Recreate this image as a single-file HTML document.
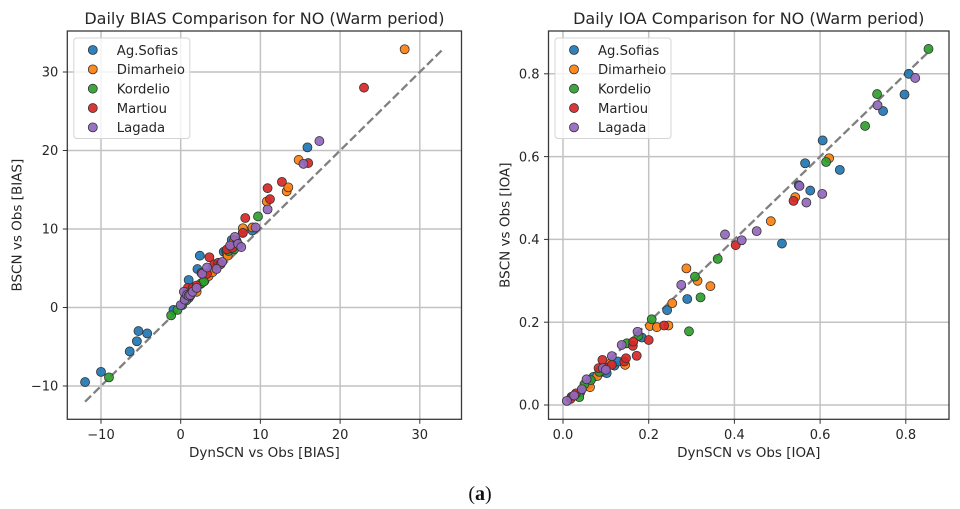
<!DOCTYPE html>
<html>
<head>
<meta charset="utf-8">
<title>Daily BIAS and IOA Comparison for NO</title>
<style>
html,body{margin:0;padding:0;background:#fff;width:960px;height:509px;overflow:hidden}
svg{display:block;filter:blur(0.35px)}
text{font-family:"DejaVu Sans","Liberation Sans",sans-serif;fill:#262626}
</style>
</head>
<body>
<svg id="figure" width="960" height="509" viewBox="0 0 960 509" xmlns="http://www.w3.org/2000/svg">
<text x="480" y="500" text-anchor="middle" style="font-family:'Liberation Serif',serif;font-size:20px;fill:#111">(<tspan font-weight="bold">a</tspan>)</text>
</svg>
<script>
const siteNames = ['Ag.Sofias','Dimarheio','Kordelio','Martiou','Lagada'];
const siteColors = ['#1f77b4','#ff7f0e','#2ca02c','#d62728','#9467bd'];

const biasXTicks = [-10,0,10,20,30];
const biasYTicks = [-10,0,10,20,30];
const ioaXTicks = [0,0.2,0.4,0.6,0.8];
const ioaYTicks = [0,0.2,0.4,0.6,0.8];
const biasLineEnds = [-12,33];
const ioaLineEnds = [0.01,0.86];

const biasAgSofias = [[-12,-9.5],[-10,-8.2],[-6.4,-5.6],[-5.5,-4.3],[-5.3,-3],[-4.2,-3.3],[-0.9,-0.3],[0.2,0.3],[0.5,1],[0.8,1.8],[1,3.5],[1.8,2.2],[2.1,4.9],[2.4,6.6],[3.2,4.3],[4,5],[5.4,7.1],[5.7,7.2],[6.4,8.6],[7,8.5],[9,9.8],[15.9,20.4]];
const biasDimarheio = [[1,1.2],[2,2],[3,3.4],[3.5,4],[4,4.5],[5.8,6.8],[5.9,6.6],[6,7.5],[6.7,8.5],[7.8,9.6],[7.8,10.1],[9,10.2],[10.8,13.5],[13.3,14.8],[13.5,15.3],[14.8,18.8],[28.1,32.9]];
const biasKordelio = [[-9,-8.9],[-1.2,-1],[-0.4,-0.3],[0.7,0.9],[1.2,1.5],[2.5,3],[2.6,3.1],[2.9,3.3],[6,7.2],[6.7,7.4],[7,8],[9.7,11.6]];
const biasMartiou = [[0.8,2],[0.9,2.5],[1.5,2.5],[2,2.8],[2.6,4.4],[3.3,4.3],[3.6,6.4],[4.2,5.5],[4.7,5.7],[5,5.5],[5.8,7.4],[6.5,7.6],[7.8,9.5],[8.1,11.4],[10.9,15.2],[11.2,13.8],[12.7,16],[16,18.4],[23,28]];
const biasLagada = [[0,0.3],[0.4,2],[0.5,1],[0.8,1.6],[1,1.5],[1.2,1.6],[1.5,2],[2,2.5],[2.7,4.3],[3.3,5.1],[4.5,4.9],[5.2,5.8],[6.2,7.9],[6.8,9],[7.2,8.1],[7.6,7.7],[9.4,10.2],[10.9,12.5],[15.4,18.3],[17.4,21.2]];

const ioaAgSofias = [[0.02,0.02],[0.04,0.03],[0.06,0.05],[0.071,0.068],[0.09,0.08],[0.102,0.077],[0.12,0.095],[0.129,0.105],[0.184,0.163],[0.243,0.229],[0.29,0.256],[0.511,0.39],[0.55,0.531],[0.565,0.584],[0.577,0.518],[0.606,0.639],[0.646,0.568],[0.747,0.71],[0.797,0.75],[0.807,0.80]];
const ioaDimarheio = [[0.03,0.025],[0.05,0.045],[0.063,0.043],[0.08,0.07],[0.11,0.1],[0.145,0.097],[0.203,0.191],[0.219,0.188],[0.246,0.192],[0.255,0.246],[0.288,0.33],[0.314,0.30],[0.344,0.287],[0.485,0.444],[0.542,0.502],[0.621,0.596]];
const ioaKordelio = [[0.038,0.019],[0.05,0.05],[0.065,0.06],[0.085,0.08],[0.149,0.149],[0.176,0.167],[0.207,0.207],[0.294,0.178],[0.308,0.31],[0.321,0.26],[0.361,0.353],[0.614,0.587],[0.705,0.674],[0.733,0.751],[0.853,0.86]];
const ioaMartiou = [[0.018,0.015],[0.03,0.028],[0.083,0.089],[0.092,0.109],[0.1,0.09],[0.114,0.097],[0.143,0.105],[0.147,0.113],[0.163,0.143],[0.164,0.153],[0.172,0.119],[0.2,0.157],[0.236,0.192],[0.403,0.386],[0.538,0.493]];
const ioaLagada = [[0.009,0.01],[0.026,0.023],[0.044,0.038],[0.055,0.062],[0.093,0.089],[0.1,0.085],[0.114,0.118],[0.137,0.145],[0.174,0.177],[0.276,0.29],[0.378,0.412],[0.417,0.398],[0.452,0.42],[0.552,0.529],[0.568,0.489],[0.605,0.51],[0.734,0.724],[0.822,0.79]];

const svgNS = 'http://www.w3.org/2000/svg';
const figure = document.getElementById('figure');

function addNode(parent, tag, props, text) {
  const node = document.createElementNS(svgNS, tag);
  for (const key in props) node.setAttribute(key, props[key]);
  if (text !== undefined) node.textContent = text;
  parent.appendChild(node);
  return node;
}

function formatTick(value, decimals) {
  return value.toFixed(decimals).replace('-', '\u2212');
}

function drawPanel(panel) {
  const scaleX = v => panel.x0 + (v - panel.xRef) * panel.xUnit;
  const scaleY = v => panel.y0 - (v - panel.yRef) * panel.yUnit;
  const group = addNode(figure, 'g', {});
  
  

  panel.xTicks.forEach(t => {
    const x = scaleX(t);
    const grid = addNode(group, 'line', {x1:x, x2:x, y1:panel.top, y2:panel.bottom, stroke:'#c2c2c2', 'stroke-width':1.5});
    
    
  });
  panel.yTicks.forEach(t => {
    const y = scaleY(t);
    const grid = addNode(group, 'line', {x1:panel.left, x2:panel.right, y1:y, y2:y, stroke:'#c2c2c2', 'stroke-width':1.5});
    
    
  });

  const identity = addNode(group, 'line', {x1:scaleX(panel.line[0]), y1:scaleY(panel.line[0]), x2:scaleX(panel.line[1]), y2:scaleY(panel.line[1]), stroke:'#808080', 'stroke-width':2.3, 'stroke-dasharray':'8.4 3.6'});
  
  

  panel.series.forEach((points, s) => {
    const seriesGroup = addNode(group, 'g', {});
    
    
    points.forEach(p => {
      const dot = addNode(seriesGroup, 'circle', {cx:scaleX(p[0]), cy:scaleY(p[1]), r:4.5, fill:siteColors[s], 'fill-opacity':0.92, stroke:'#333', 'stroke-width':0.8});
      
      
    });
  });

  const frame = addNode(group, 'rect', {x:panel.left, y:panel.top, width:panel.right - panel.left, height:panel.bottom - panel.top, fill:'none', stroke:'#3a3a3a', 'stroke-width':1.3});
  
  

  panel.xTicks.forEach(t => {
    const x = scaleX(t);
    const mark = addNode(group, 'line', {x1:x, x2:x, y1:panel.bottom, y2:panel.bottom + 4.5, stroke:'#333', 'stroke-width':1});
    
    
    const label = addNode(group, 'text', {x:x, y:panel.bottom + 19.5, 'text-anchor':'middle', 'font-size':13}, formatTick(t, panel.decimals));
    
    
  });
  panel.yTicks.forEach(t => {
    const y = scaleY(t);
    const mark = addNode(group, 'line', {x1:panel.left - 4.5, x2:panel.left, y1:y, y2:y, stroke:'#333', 'stroke-width':1});
    
    
    const label = addNode(group, 'text', {x:panel.left - 9, y:y + 4.7, 'text-anchor':'end', 'font-size':13}, formatTick(t, panel.decimals));
    
    
  });

  const midX = (panel.left + panel.right) / 2;
  const midY = (panel.top + panel.bottom) / 2;
  const title = addNode(group, 'text', {x:midX, y:panel.top - 7, 'text-anchor':'middle', 'font-size':16}, panel.title);
  
  
  const xTitle = addNode(group, 'text', {x:midX, y:panel.bottom + 37.5, 'text-anchor':'middle', 'font-size':13.5}, panel.xLabel);
  
  
  const yTitle = addNode(group, 'text', {x:0, y:0, 'text-anchor':'middle', 'font-size':13.5, transform:'translate(' + panel.yTitleX + ' ' + midY + ') rotate(-90)'}, panel.yLabel);
  
  

  const legend = addNode(group, 'g', {});
  
  
  const legendBox = addNode(legend, 'rect', {x:panel.left + 6.5, y:panel.top + 7, width:116, height:100.5, rx:3, fill:'#fff', 'fill-opacity':0.8, stroke:'#d4d4d4', 'stroke-width':1});
  
  
  siteNames.forEach((name, i) => {
    const rowY = panel.top + 19 + i * 19.35;
    const swatch = addNode(legend, 'circle', {cx:panel.left + 25.5, cy:rowY, r:4.5, fill:siteColors[i], 'fill-opacity':0.92, stroke:'#333', 'stroke-width':0.8});
    
    
    const entry = addNode(legend, 'text', {x:panel.left + 49.5, y:rowY + 4.8, 'font-size':13.2}, name);
    
    
  });
}

drawPanel({
  id:'bias', title:'Daily BIAS Comparison for NO (Warm period)', xLabel:'DynSCN vs Obs [BIAS]', yLabel:'BSCN vs Obs [BIAS]',
  left:67.3, right:461.5, top:31, bottom:419.3, yTitleX:21.5,
  x0:180.7, xRef:0, xUnit:7.97, y0:307.5, yRef:0, yUnit:7.85, decimals:0,
  xTicks:biasXTicks, yTicks:biasYTicks, line:biasLineEnds,
  series:[biasAgSofias, biasDimarheio, biasKordelio, biasMartiou, biasLagada]
});
drawPanel({
  id:'ioa', title:'Daily IOA Comparison for NO (Warm period)', xLabel:'DynSCN vs Obs [IOA]', yLabel:'BSCN vs Obs [IOA]',
  left:548.5, right:949, top:31, bottom:419.3, yTitleX:509.5,
  x0:563, xRef:0, xUnit:428.5, y0:405, yRef:0, yUnit:414, decimals:1,
  xTicks:ioaXTicks, yTicks:ioaYTicks, line:ioaLineEnds,
  series:[ioaAgSofias, ioaDimarheio, ioaKordelio, ioaMartiou, ioaLagada]
});
</script>
</body>
</html>
